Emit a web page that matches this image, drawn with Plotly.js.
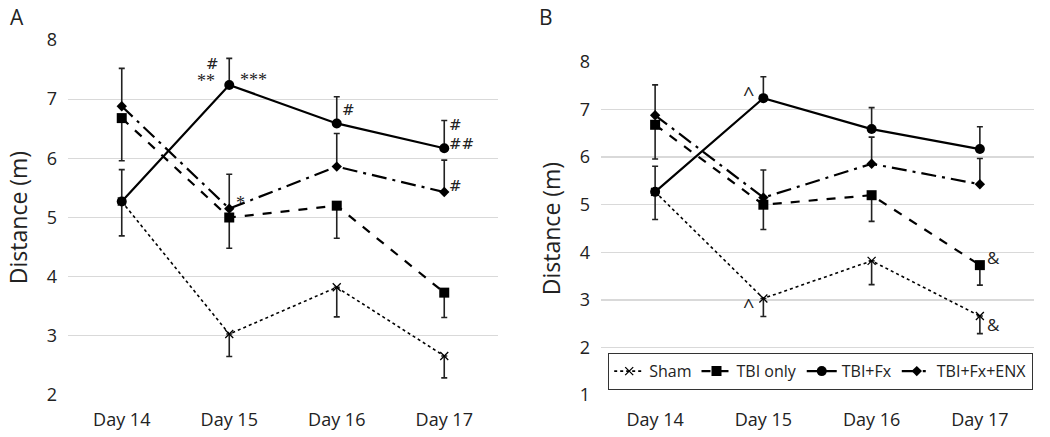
<!DOCTYPE html>
<html>
<head>
<meta charset="utf-8">
<script src="https://cdn.plot.ly/plotly-3.0.1.min.js"></script>
<style>html,body{margin:0;padding:0;background:#fff;}#chart{width:1050px;height:437px;}</style>
</head>
<body>
<div id="chart"></div>
<script>
const days = ["Day 14", "Day 15", "Day 16", "Day 17"];
const seriesNames = ["Sham", "TBI only", "TBI+Fx", "TBI+Fx+ENX"];
const sham = [5.27, 3.03, 3.82, 2.66];
const tbiOnly = [6.68, 5.00, 5.20, 3.73];
const tbiFx = [5.27, 7.24, 6.59, 6.17];
const tbiFxEnx = [6.88, 5.15, 5.86, 5.43];
// error bars (one-sided, as drawn)
const shamErrDown = [0.58, 0.38, 0.50, 0.37];
const tbiOnlyErrDown = [0.72, 0.52, 0.55, 0.42];
const tbiFxErrUp = [0.54, 0.45, 0.45, 0.47];
const tbiFxEnxErrUp = [0.64, 0.58, 0.56, 0.54];
const yTicksA = [2, 3, 4, 5, 6, 7, 8];
const yTicksB = [1, 2, 3, 4, 5, 6, 7, 8];

const W = 1050, H = 437;
const styles = [
  {dash: "dot", width: 1.6, symbol: "x-thin-open", size: 8, mlw: 1.3},
  {dash: "dash", width: 2.2, symbol: "square", size: 10, mlw: 0},
  {dash: "solid", width: 2.2, symbol: "circle", size: 10, mlw: 0},
  {dash: "longdashdot", width: 2.2, symbol: "diamond", size: 8, mlw: 0}
];
const values = [sham, tbiOnly, tbiFx, tbiFxEnx];
const errs = [
  {up: [0,0,0,0], down: shamErrDown},
  {up: [0,0,0,0], down: tbiOnlyErrDown},
  {up: tbiFxErrUp, down: [0,0,0,0]},
  {up: tbiFxEnxErrUp, down: [0,0,0,0]}
];
const xIdx = days.map((d, i) => i);

const traces = [];
["", "2"].forEach((suf, p) => {
  values.forEach((v, i) => {
    const s = styles[i];
    traces.push({
      type: "scatter", mode: "lines+markers",
      x: xIdx, y: v, xaxis: "x" + suf, yaxis: "y" + suf,
      name: seriesNames[i], showlegend: p === 1,
      line: {color: "#000", width: s.width, dash: s.dash},
      marker: {symbol: s.symbol, size: s.size, color: "#000", line: {color: "#000", width: s.mlw}},
      error_y: {type: "data", symmetric: false, array: errs[i].up, arrayminus: errs[i].down,
                color: "#222", thickness: 1.6, width: 3},
      cliponaxis: false
    });
  });
});

const gridc = "#d9d9d9";
const fontF = "'Open Sans', 'Liberation Sans', sans-serif";
function xax(d0, d1, anchor) {
  return {domain: [d0 / W, d1 / W], range: [-0.5, 3.5], tickvals: xIdx, ticktext: days,
    showgrid: false, zeroline: false, showline: false, ticks: "", anchor: anchor,
    tickfont: {size: 18, color: "#222", family: fontF}, ticklabelstandoff: 12, fixedrange: true};
}
function yax(top, bot, range, ticks, anchor) {
  return {domain: [1 - bot / H, 1 - top / H], range: range, tickvals: ticks,
    showgrid: true, gridcolor: gridc, gridwidth: 1.3, zeroline: false, showline: false, ticks: "",
    anchor: anchor, tickfont: {size: 18, color: "#222", family: fontF}, ticklabelstandoff: 10,
    title: {text: "Distance (m)", font: {size: 23, color: "#222", family: fontF}, standoff: 12}};
}

const layout = {
  width: W, height: H, margin: {l: 0, r: 0, t: 0, b: 0},
  paper_bgcolor: "#fff", plot_bgcolor: "#fff",
  font: {family: fontF, color: "#222"},
  xaxis: xax(68, 498, "y"),
  yaxis: yax(40, 395, [2, 8], yTicksA, "x"),
  xaxis2: xax(601, 1034, "y2"),
  yaxis2: yax(62, 395, [1, 8], yTicksB, "x2"),
  legend: {orientation: "h", x: 608 / W, y: 1 - 353 / H, xanchor: "left", yanchor: "top",
    bordercolor: "#333", borderwidth: 1.2, font: {size: 16, color: "#222", family: fontF},
    bgcolor: "#fff", tracegroupgap: 0, itemwidth: 30},
  annotations: [],
  showlegend: true
};

function ann(text, xr, yr, x, y, xs, ys, size, fam) {
  layout.annotations.push({text: text, xref: xr, yref: yr, x: x, y: y, xshift: xs, yshift: ys,
    xanchor: "center", yanchor: "middle",
    showarrow: false, font: {size: size || 14, color: "#222", family: fam || "'DejaVu Serif', serif"}});
}
// panel letters
ann("A", "paper", "paper", 17 / W, 1 - 17 / H, 0, 0, 21, fontF);
ann("B", "paper", "paper", 546 / W, 1 - 17 / H, 0, 0, 21, fontF);
// panel A significance marks
ann("**", "x", "y", 1, tbiFx[1], -23, 4, 18, "'Liberation Serif', serif");
ann("#", "x", "y", 1, tbiFx[1], -17, 21, 15);
ann("***", "x", "y", 1, tbiFx[1], 24, 5, 18, "'Liberation Serif', serif");
ann("*", "x", "y", 1, tbiFxEnx[1], 11, 6, 18, "'Liberation Serif', serif");
ann("#", "x", "y", 2, tbiFx[2], 12, 13, 15);
ann("#", "x", "y", 3, tbiFx[3], 11, 23, 15);
ann("##", "x", "y", 3, tbiFx[3], 17, 4, 15);
ann("#", "x", "y", 3, tbiFxEnx[3], 11, 6, 15);
// panel B marks
ann("^", "x2", "y2", 1, tbiFx[1], -15, 5, 20, fontF);
ann("^", "x2", "y2", 1, sham[1], -15, -7, 20, fontF);
ann("&amp;", "x2", "y2", 3, tbiOnly[3], 14, 8, 17, fontF);
ann("&amp;", "x2", "y2", 3, sham[3], 14, -8, 17, fontF);

Plotly.newPlot("chart", traces, layout, {staticPlot: true, displayModeBar: false});
</script>
</body>
</html>
